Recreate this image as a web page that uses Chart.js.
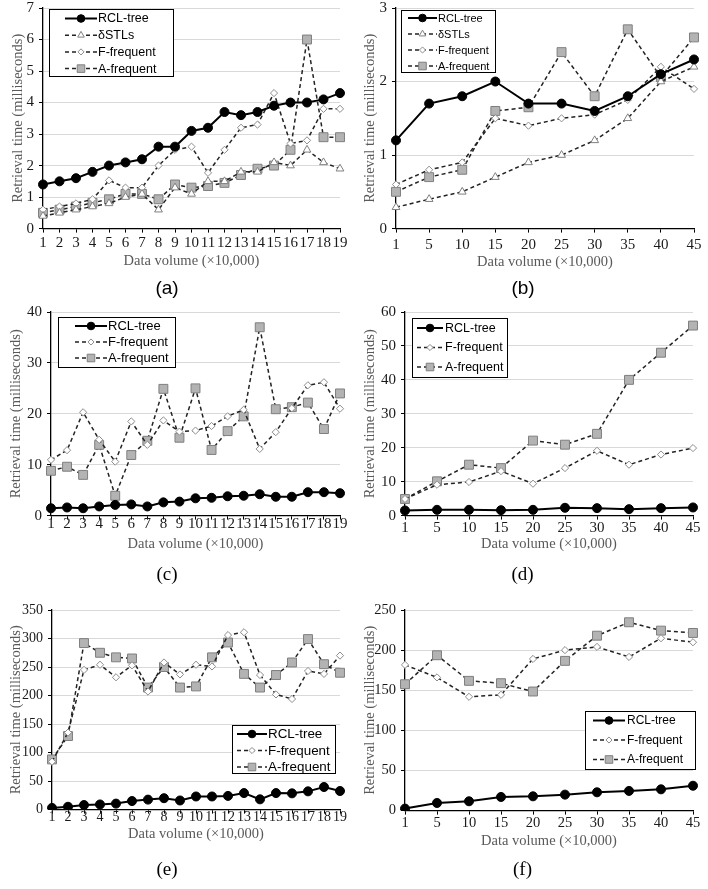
<!DOCTYPE html>
<html>
<head>
<meta charset="UTF-8">
<script src="https://cdn.jsdelivr.net/npm/chart.js@4.4.0/dist/chart.umd.min.js"></script>
<style>
html, body { margin: 0; padding: 0; background: #fff; overflow: hidden; }
#page { position: relative; width: 708px; height: 889px; overflow: hidden; }
#page canvas { position: absolute; }
</style>
</head>
<body>
<div id="page"></div>
<script>
// x categories
const x19 = ['1','2','3','4','5','6','7','8','9','10','11','12','13','14','15','16','17','18','19'];
const x45 = ['1','5','10','15','20','25','30','35','40','45'];

// (a)
const aRcl = [1.4,1.5,1.6,1.8,2.0,2.1,2.2,2.6,2.6,3.1,3.2,3.7,3.6,3.7,3.9,4.0,4.0,4.1,4.3];
const aStl = [0.4,0.5,0.6,0.7,0.8,1.0,1.1,0.6,1.3,1.1,1.5,1.5,1.8,1.8,2.1,2.0,2.5,2.1,1.9];
const aFf  = [0.6,0.7,0.8,0.93,1.53,1.3,1.3,2.0,2.5,2.6,1.77,2.5,3.2,3.3,4.3,2.7,2.8,3.8,3.8];
const aAf  = [0.5,0.6,0.7,0.82,0.93,1.1,1.1,0.93,1.4,1.3,1.35,1.45,1.7,1.9,2.0,2.5,6.0,2.9,2.9];
// (b)
const bRcl = [1.2,1.7,1.8,2.0,1.7,1.7,1.6,1.8,2.1,2.3];
const bStl = [0.29,0.4,0.5,0.7,0.9,1.0,1.2,1.5,2.0,2.2];
const bFf  = [0.6,0.8,0.9,1.5,1.4,1.5,1.55,1.75,2.2,1.9];
const bAf  = [0.5,0.7,0.8,1.6,1.65,2.4,1.8,2.71,2.06,2.6];
// (c)
const cRcl = [1.44,1.6,1.44,1.8,2.1,2.2,1.8,2.6,2.75,3.4,3.5,3.8,3.9,4.2,3.7,3.7,4.6,4.6,4.4];
const cFf  = [10.95,12.85,20.3,14.9,10.6,18.5,13.9,18.7,16.5,16.7,17.6,19.5,20.8,13.1,16.4,21.1,25.6,26.2,21];
const cAf  = [8.8,9.6,8.0,13.9,3.9,11.9,14.7,24.9,15.3,25.0,12.9,16.6,19.5,37.0,20.9,21.3,22.2,17.0,24.0];
// (d)
const dRcl = [1.5,1.7,1.7,1.6,1.7,2.3,2.2,1.9,2.2,2.4];
const dFf  = [4.9,9.1,9.9,13.1,9.4,14.0,19.1,15.0,18.0,19.9];
const dAf  = [4.9,10.1,15.0,14.0,22.1,20.9,24.1,40.0,48.0,56.0];
// (e)
const eRcl = [3,5,8,9,10.5,15,17.5,20,16,23,23,24,29,18,29,28.5,32,39.6,32.6];
const eFf  = [84,135,245,254,232,253,207,258,237,254,251,306,311,236,202,194,243,238,270];
const eAf  = [88,129,292,275,267,265,214,250,214,216,267,293,238,214,236,258,299,255,240];
// (f)
const fRcl = [2.5,9.5,11.6,17,17.8,19.9,22.8,24.5,26.5,31];
const fFf  = [181.6,166,141.8,144.3,189,200,204,191.5,214.8,209.8];
const fAf  = [157.5,193.6,161.7,158.8,148.4,186.6,218,234.7,224.3,221.4];

const serif = "'Liberation Serif', 'Times New Roman', serif";
const sans = "'Liberation Sans', Arial, sans-serif";
const narrow = "'Liberation Sans Narrow', 'Liberation Sans', Arial, sans-serif";

const styles = {
  rcl: { label: 'RCL-tree', borderColor: '#000', borderWidth: 2, pointStyle: 'circle', pointRadius: 4.5,
         pointBackgroundColor: '#000', pointBorderColor: '#000' },
  stl: { label: 'δSTLs', borderColor: '#222', borderWidth: 1.5, borderDash: [4, 3], pointStyle: 'triangle', pointRadius: 4.5,
         pointBackgroundColor: '#fff', pointBorderColor: '#808080' },
  ff:  { label: 'F-frequent', borderColor: '#222', borderWidth: 1.5, borderDash: [4, 3], pointStyle: 'rectRot', pointRadius: 3.6,
         pointBackgroundColor: '#fff', pointBorderColor: '#8c8c8c' },
  af:  { label: 'A-frequent', borderColor: '#222', borderWidth: 1.5, borderDash: [4, 3], pointStyle: 'rect', pointRadius: 6.3,
         pointBackgroundColor: '#b3b3b3', pointBorderColor: '#7f7f7f' }
};

const panels = [
  { id: 'a', labels: x19, series: [['rcl', aRcl], ['stl', aStl], ['ff', aFf], ['af', aAf]], max: 7, step: 1,
    area: { l: 43, t: 8, r: 340, b: 229 }, left: -6, capX: 175, capY: 289, capFont: narrow,
    yTitleX: 18, xTitleY: 262, tickY: 243, tickSize: 15,
    legend: { l: 49, t: 9, w: 124, h: 67, first: 9.5, row: 16.7, l0: 16, l1: 48, tx: 49, font: 12.5 } },
  { id: 'b', labels: x45, series: [['rcl', bRcl], ['stl', bStl], ['ff', bFf], ['af', bAf]], max: 3, step: 1,
    area: { l: 396, t: 8, r: 694, b: 229 }, left: 352, capX: 550, capY: 289, capFont: narrow,
    yTitleX: 370, xTitleY: 263, tickY: 245, tickSize: 15,
    legend: { l: 401, t: 10, w: 94, h: 62, first: 8, row: 16, l0: 7, l1: 36, tx: 37, font: 11 } },
  { id: 'c', labels: x19, series: [['rcl', cRcl], ['ff', cFf], ['af', cAf]], max: 40, step: 10,
    area: { l: 51, t: 312, r: 340, b: 516 }, left: -6, capX: 174, capY: 575, capFont: serif,
    yTitleX: 16, xTitleY: 545, tickY: 524, tickSize: 15,
    legend: { l: 58, t: 317, w: 117, h: 50, first: 9, row: 16, l0: 17, l1: 49, tx: 50, font: 13 } },
  { id: 'd', labels: x45, series: [['rcl', dRcl], ['ff', dFf], ['af', dAf]], max: 60, step: 10,
    area: { l: 405, t: 312, r: 693, b: 516 }, left: 352, capX: 551, capY: 575, capFont: serif,
    yTitleX: 370, xTitleY: 545, tickY: 528, tickSize: 15,
    legend: { l: 412, t: 318, w: 95, h: 59, first: 10, row: 19.5, l0: 5, l1: 31, tx: 33, font: 12.5 } },
  { id: 'e', labels: x19, series: [['rcl', eRcl], ['ff', eFf], ['af', eAf]], max: 350, step: 50,
    area: { l: 52, t: 610, r: 340, b: 810 }, left: -6, capX: 187, capY: 870, capFont: serif,
    yTitleX: 16, xTitleY: 835, tickY: 818, tickSize: 14,
    legend: { l: 232, t: 725, w: 103, h: 48, first: 9, row: 16.5, l0: 5, l1: 35, tx: 36, font: 13.4 } },
  { id: 'f', labels: x45, series: [['rcl', fRcl], ['ff', fFf], ['af', fAf]], max: 250, step: 50,
    area: { l: 405, t: 610, r: 693, b: 811 }, left: 352, capX: 542, capY: 870, capFont: serif,
    yTitleX: 370, xTitleY: 842, tickY: 824, tickSize: 14.5,
    legend: { l: 585, t: 711, w: 110, h: 58, first: 9.5, row: 19.5, l0: 8, l1: 40, tx: 42, font: 12 } }
];

function marker(ctx, style, r, x, y) {
  if (Chart.helpers && Chart.helpers.drawPoint) {
    Chart.helpers.drawPoint(ctx, { pointStyle: style, radius: r, borderWidth: 1, rotation: 0 }, x, y);
    return;
  }
  ctx.beginPath();
  ctx.arc(x, y, r, 0, Math.PI * 2);
  ctx.fill(); ctx.stroke();
}

// legend with framed white box, drawn on top
const boxLegend = {
  id: 'boxLegend',
  afterDraw(chart, args, o) {
    if (!o || !o.w) return;
    const ctx = chart.ctx;
    const x = o.x, y = o.y;
    ctx.save();
    ctx.fillStyle = '#fff';
    ctx.fillRect(x, y, o.w, o.h);
    ctx.strokeStyle = '#000';
    ctx.lineWidth = 1;
    ctx.strokeRect(x + 0.5, y + 0.5, o.w, o.h);
    chart.data.datasets.forEach((ds, i) => {
      const ry = y + o.first + i * o.row;
      ctx.setLineDash(ds.borderDash || []);
      ctx.strokeStyle = ds.borderColor;
      ctx.lineWidth = ds.borderWidth;
      ctx.beginPath();
      ctx.moveTo(x + o.l0, ry);
      ctx.lineTo(x + o.l1, ry);
      ctx.stroke();
      ctx.setLineDash([]);
      ctx.fillStyle = ds.pointBackgroundColor;
      ctx.strokeStyle = ds.pointBorderColor;
      ctx.lineWidth = 1;
      marker(ctx, ds.pointStyle, ds.pointRadius * 0.85, x + (o.l0 + o.l1) / 2, ry);
      ctx.fillStyle = '#000';
      ctx.font = o.font + 'px ' + sans;
      ctx.textBaseline = 'middle';
      ctx.textAlign = 'left';
      ctx.fillText(ds.label, x + o.tx, ry + 0.5);
    });
    ctx.restore();
  }
};

const page = document.getElementById('page');
const titleSize = 14.5;
const capSize = 19;

panels.forEach(p => {
  const cl = p.left;
  const cr = 2 * p.capX - cl;
  const ct = p.area.t - 14;
  const tlh = titleSize * 1.2;
  const xH = p.xTitleY - p.area.b + tlh / 2;
  const clh = capSize * 1.2;
  const capPad = p.capY - p.area.b - xH - clh / 2;
  const capBox = clh + capPad + 4;
  const cb = p.area.b + xH + capBox;
  const W = Math.round(cr - cl), H = Math.round(cb - ct);

  const cv = document.createElement('canvas');
  cv.width = W; cv.height = H;
  cv.style.left = cl + 'px'; cv.style.top = ct + 'px';
  cv.style.width = W + 'px'; cv.style.height = H + 'px';
  page.appendChild(cv);

  const lg = Object.assign({}, p.legend, { x: p.legend.l - cl, y: p.legend.t - ct });

  new Chart(cv.getContext('2d'), {
    type: 'line',
    data: {
      labels: p.labels,
      datasets: p.series.map(([k, vals]) => Object.assign({ data: vals, fill: false, tension: 0, pointBorderWidth: 1 }, styles[k]))
    },
    options: {
      responsive: false,
      animation: false,
      devicePixelRatio: 1,
      events: [],
      layout: { padding: { left: 0, top: p.area.t - ct, right: cr - p.area.r, bottom: 0 } },
      plugins: {
        legend: { display: false },
        tooltip: { enabled: false },
        title: {
          display: true, position: 'bottom', text: '(' + p.id + ')', color: '#000',
          font: { family: p.capFont, size: capSize, weight: 'normal' },
          padding: { top: capPad, bottom: 4 }
        },
        boxLegend: lg
      },
      scales: {
        x: {
          offset: false,
          grid: { drawOnChartArea: false, tickLength: 4, tickColor: '#000' },
          border: { color: '#000', width: 1.3 },
          ticks: {
            font: { family: serif, size: p.tickSize }, color: '#1a1a1a', maxRotation: 0, autoSkip: false,
            padding: p.tickY - p.area.b - 4 - p.tickSize * 1.2 / 2
          },
          title: {
            display: true, text: 'Data volume (×10,000)', color: '#595959',
            font: { family: serif, size: titleSize }, padding: { top: 0, bottom: 0 }
          },
          afterFit: s => { s.height = xH; }
        },
        y: {
          min: 0, max: p.max,
          ticks: { stepSize: p.step, font: { family: serif, size: p.tickSize }, color: '#1a1a1a', padding: 5 },
          grid: {
            color: c => (c.tick && c.tick.value === 0) ? 'rgba(0,0,0,0)' : '#d9d9d9',
            lineWidth: 1, tickLength: 4, tickColor: '#000'
          },
          border: { color: '#000', width: 1.3 },
          title: {
            display: true, text: 'Retrieval time (milliseconds)', color: '#595959',
            font: { family: serif, size: titleSize }, padding: { top: p.yTitleX - cl - tlh / 2, bottom: 0 }
          },
          afterFit: s => { s.width = p.area.l - cl; }
        }
      }
    },
    plugins: [boxLegend]
  });
});
</script>
</body>
</html>
